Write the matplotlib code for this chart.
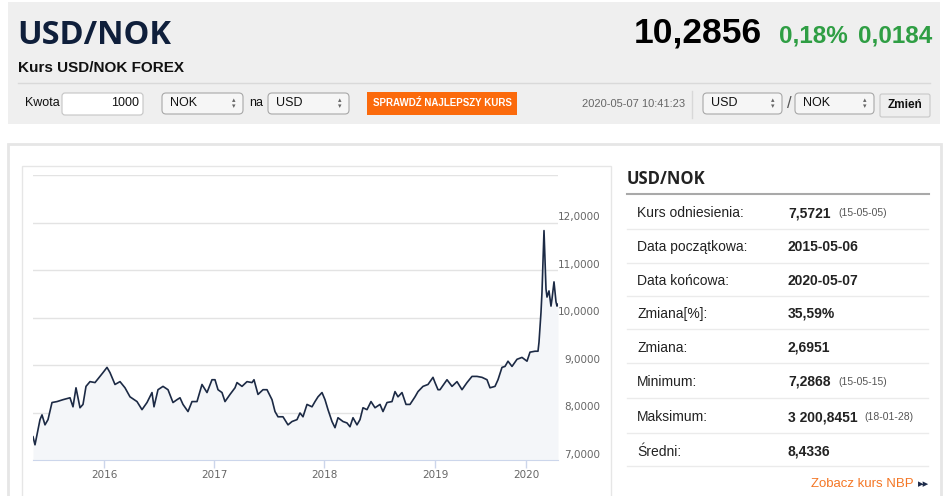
import matplotlib.pyplot as plt
from matplotlib.patches import Rectangle, FancyBboxPatch
from matplotlib.transforms import ScaledTranslation

obs = [0, 4, 14, 18, 24, 30, 38, 48, 60, 74, 80, 86, 94, 100, 106, 114, 124, 134,
       140, 148, 154, 164, 174, 184, 194, 208, 218, 228, 238, 242, 250, 260, 270,
       280, 288, 294, 300, 310, 318, 328, 338, 348, 358, 364, 370, 378, 384, 394,
       404, 408, 418, 428, 438, 442, 450, 460, 468, 478, 484, 490, 500, 510, 518,
       528, 534, 540, 548, 558, 564, 570, 578, 584, 590, 598, 604, 610, 620, 628,
       634, 640, 648, 654, 660, 668, 676, 684, 694, 700, 708, 718, 724, 730, 738,
       746, 754, 764, 770, 780, 790, 800, 804, 810, 814, 828, 838, 848, 858, 868,
       878, 888, 898, 908, 914, 924, 930, 938, 944, 950, 958, 968, 978, 988, 994,
       1004, 1010, 1012, 1016, 1018, 1022, 1026, 1028, 1032, 1036, 1038, 1042,
       1046, 1048, 1050]
rate = [7.49, 7.32, 7.85, 7.95, 7.74, 7.85, 8.21, 8.23, 8.27, 8.31, 8.12, 8.52,
        8.10, 8.17, 8.55, 8.65, 8.63, 8.76, 8.84, 8.95, 8.84, 8.59, 8.65, 8.52,
        8.33, 8.23, 8.06, 8.21, 8.42, 8.12, 8.48, 8.55, 8.48,
        8.21, 8.27, 8.31, 8.17, 8.02, 8.23, 8.23, 8.59, 8.42, 8.69, 8.69, 8.48,
        8.42, 8.23, 8.38, 8.52, 8.63, 8.55, 8.65, 8.63, 8.69, 8.38, 8.48, 8.48,
        8.27, 8.02, 7.91, 7.91, 7.74, 7.81, 7.85, 7.99,
        7.91, 8.17, 8.12, 8.23, 8.33, 8.42, 8.27, 8.06, 7.81, 7.68, 7.89, 7.81,
        7.78, 7.70, 7.89, 7.74, 7.85, 8.10, 8.06, 8.23, 8.10, 8.17, 8.02, 8.21,
        8.23, 8.44, 8.33, 8.42, 8.17, 8.17, 8.33, 8.44, 8.55, 8.59, 8.74, 8.63,
        8.48,
        8.48, 8.69, 8.55, 8.65, 8.48, 8.63, 8.76, 8.76, 8.74, 8.69, 8.52, 8.55,
        8.69, 8.95, 8.97, 9.08, 8.97, 9.12, 9.16, 9.08, 9.27, 9.29, 9.29, 9.48,
        10.11, 10.54, 11.83, 10.60, 10.43, 10.56, 10.24, 10.39, 10.75, 10.33,
        10.24, 10.28]

year_pos = [142, 362, 582, 804, 986]
year_labels = ['2016', '2017', '2018', '2019', '2020']
y_ticks = [7, 8, 9, 10, 11, 12, 13]
y_labels = ['7,0000', '8,0000', '9,0000', '10,0000', '11,0000', '12,0000', '']

stat_names = ['Kurs odniesienia:', 'Data początkowa:', 'Data końcowa:', 'Zmiana[%]:',
              'Zmiana:', 'Minimum:', 'Maksimum:', 'Średni:']
stat_values = ['7,5721', '2015-05-06', '2020-05-07', '35,59%', '2,6951', '7,2868',
               '3 200,8451', '8,4336']
stat_dates = ['(15-05-05)', '', '', '', '', '(15-05-15)', '(18-01-28)', '']

TXT = 'Liberation Sans'

fig = plt.figure(figsize=(9.45, 4.96), dpi=100)
fig.patch.set_facecolor('white')

# page background drawn in pixel coordinates
bg = fig.add_axes([0, 0, 1, 1])
bg.set_xlim(0, 945)
bg.set_ylim(496, 0)
bg.axis('off')


def box(x0, y0, x1, y1, fc, ec='none', lw=1, r=0):
    if r:
        p = FancyBboxPatch((x0, y0), x1 - x0, y1 - y0,
                           boxstyle='round,pad=0,rounding_size=%d' % r,
                           fc=fc, ec=ec, lw=lw)
    else:
        p = Rectangle((x0, y0), x1 - x0, y1 - y0, fc=fc, ec=ec, lw=lw)
    bg.add_patch(p)


def select(x0, x1, label):
    box(x0, 93, x1, 114, '#f6f6f6', '#a8a8a8', 0.8, 4)
    bg.text(x0 + 8, 103.5, label, family=TXT, fontsize=9, color='#111', va='center')
    bg.text(x1 - 9, 100.5, '▴', fontsize=5, color='#666', ha='center', va='center')
    bg.text(x1 - 9, 106.5, '▾', fontsize=5, color='#666', ha='center', va='center')


# header block
box(8, 2, 940, 124, '#efefef')
bg.plot([18, 930], [83, 83], color='#d9d9d9', lw=1)
bg.text(17, 44, 'USD/NOK', family='Open Sans', fontweight='bold', fontsize=23.5,
        color='#0f1f3b', va='baseline')
bg.text(18, 72, 'Kurs USD/NOK FOREX', family=TXT, fontweight='bold', fontsize=11,
        color='#111', va='baseline')
bg.text(762, 43, '10,2856', family=TXT, fontweight='bold', fontsize=25.5,
        color='#000', ha='right', va='baseline')
bg.text(779, 43, '0,18%', family=TXT, fontweight='bold', fontsize=17.5,
        color='#2f9e44', va='baseline')
bg.text(858, 43, '0,0184', family=TXT, fontweight='bold', fontsize=17.5,
        color='#2f9e44', va='baseline')

# converter row
bg.text(25, 103.5, 'Kwota', family=TXT, fontsize=9, color='#111', va='center')
box(62, 93, 143, 115, 'white', '#c4c4c4', 0.8, 3)
bg.text(139, 103.5, '1000', family=TXT, fontsize=9, color='#111', ha='right', va='center')
select(162, 243, 'NOK')
bg.text(249, 103.5, 'na', family=TXT, fontsize=9, color='#111', va='center')
select(268, 349, 'USD')
box(367, 92, 517, 115, '#fb6a0c')
bg.text(442, 103.5, 'SPRAWDŹ NAJLEPSZY KURS', family=TXT, fontweight='bold',
        fontsize=7, color='white', ha='center', va='center')
bg.text(582, 104, '2020-05-07 10:41:23', family=TXT, fontsize=8, color='#666',
        va='center')
bg.plot([692, 692], [91, 118], color='#d8d8d8', lw=1)
select(703, 782, 'USD')
bg.text(789, 104, '/', family=TXT, fontsize=12, color='#555', ha='center', va='center')
select(795, 874, 'NOK')
box(880, 94, 930, 117, '#eeeeee', '#c8c8c8', 0.8, 2)
bg.text(905, 105.5, 'Zmień', family=TXT, fontweight='bold', fontsize=8.5,
        color='#111', ha='center', va='center')

# panels
box(8, 144, 941, 520, 'white', '#e6e6e6', 2)
box(22, 166, 611, 520, 'white', '#e6e6e6', 1)

# statistics table
bg.text(627, 179, 'USD/NOK', family='Open Sans', fontweight='bold', fontsize=12,
        color='#222', va='center')
bg.plot([627, 929], [194, 194], color='#a9a9a9', lw=1.5)
row_y = [213, 247, 281, 314, 348, 382, 417, 452]
sep_y = [229, 263, 296, 329, 363, 398, 433, 466]
for i, name in enumerate(stat_names):
    bg.text(637, row_y[i], name, family=TXT, fontsize=10, color='#222', va='center')
    bg.text(788, row_y[i], stat_values[i], family=TXT, fontsize=10,
            fontweight='bold', color='#222', va='center')
    if stat_dates[i]:
        dx = 864 if i == 6 else 838
        bg.text(dx, row_y[i], stat_dates[i], family=TXT, fontsize=7.5,
                color='#555', va='center')
    bg.plot([627, 928], [sep_y[i], sep_y[i]], color='#ebebeb', lw=1)
bg.text(914, 484, 'Zobacz kurs NBP', family=TXT, fontsize=9.5, color='#f47624',
        ha='right', va='center')
bg.text(929, 484, '▸▸', family='DejaVu Sans', fontsize=8, color='#1d2b4a',
        ha='right', va='center')

# the chart itself
ax = fig.add_axes([33 / 945, 36 / 496, 525 / 945, 285 / 496])
ax.set_facecolor('none')
ax.fill_between(obs, rate, 7, color='#f4f6f9', lw=0)
ax.plot(obs, rate, color='#1c2a45', lw=1.2)
ax.set_xlim(0, 1050)
ax.set_ylim(7, 13)
ax.set_yticks(y_ticks, y_labels)
ax.set_xticks(year_pos, year_labels)
ax.grid(axis='y', color='#e3e3e3', lw=1)
ax.set_axisbelow(True)
for side in ['top', 'left', 'right']:
    ax.spines[side].set_visible(False)
ax.spines['bottom'].set_color('#ccd6eb')
ax.spines['bottom'].set_zorder(3)
ax.tick_params(axis='y', left=False, right=False, labelleft=False, labelright=True,
               pad=27, labelsize=7.5, labelcolor='#666666')
ax.tick_params(axis='x', length=6, width=1, color='#ccd6eb', pad=1.5,
               labelsize=7.5, labelcolor='#666666')
shift = ScaledTranslation(0, 6 / 100, fig.dpi_scale_trans)
for lab in ax.get_yticklabels():
    lab.set_horizontalalignment('right')
    lab.set_transform(lab.get_transform() + shift)

fig.savefig('out.png', dpi=100)
